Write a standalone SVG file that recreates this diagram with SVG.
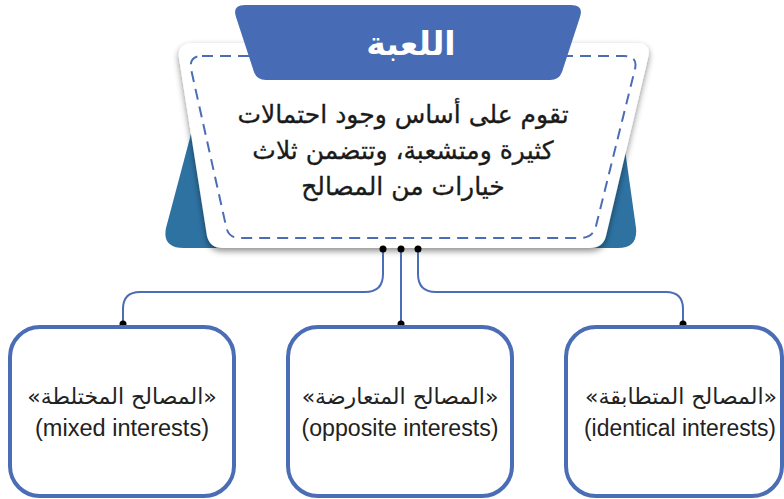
<svg xmlns="http://www.w3.org/2000/svg" width="784" height="499" viewBox="0 0 784 499">
<defs>
<style>
.conn{fill:none;stroke:#4a6db5;stroke-width:2}
.dot{fill:#000}
.box{fill:#fff;stroke:#4a6db5;stroke-width:4}
.ar{font-family:"DejaVu Sans","Noto Sans",sans-serif;font-size:22px;fill:#222;text-anchor:middle}
.en{font-family:"Liberation Sans Narrow","Liberation Sans",sans-serif;font-size:23px;fill:#222;text-anchor:middle}
.main{font-family:"DejaVu Sans","Noto Sans",sans-serif;font-size:25px;fill:#1a1a1a;text-anchor:middle;stroke:#1a1a1a;stroke-width:0.3}
</style>
<filter id="sh" x="-10%" y="-10%" width="120%" height="130%">
<feDropShadow dx="0" dy="3" stdDeviation="3" flood-color="#000" flood-opacity="0.45"/>
</filter>
</defs>
<g id="header">
<path d="M200,100 L618,100 L636,228 Q638,248 618,248 L184,248 Q162,248 166,228 Z" fill="#2e72a2"/>
<path d="M193,43 L636,43 Q652,43 648,58 L606,236 Q603,248 590,248 L222,248 Q210,248 207,236 L179,58 Q177,43 193,43 Z" fill="#fff" filter="url(#sh)"/>
<path d="M202,56 L624,56 Q638,56 635,69 L596,226 Q593,238 580,238 L240,238 Q228,238 226,226 L191,69 Q189,56 202,56 Z" fill="none" stroke="#4a6db5" stroke-width="2" stroke-dasharray="11,7"/>
<path d="M245,5 L571,5 Q584,5 580,17 L562,72 Q559,80 550,80 L266,80 Q257,80 254,72 L236,17 Q232,5 245,5 Z" fill="#476bb4"/>
<text x="411" y="55" font-family="DejaVu Sans,Noto Sans,sans-serif" font-size="33" font-weight="bold" fill="#fff" text-anchor="middle" direction="rtl">اللعبة</text>
<text class="main" x="403" y="123" direction="rtl">تقوم على أساس وجود احتمالات</text>
<text class="main" x="403" y="159" direction="rtl">كثيرة ومتشعبة، وتتضمن ثلاث</text>
<text class="main" x="403" y="195" direction="rtl">خيارات من المصالح</text>
</g>
<g id="connectors">
<path class="conn" d="M383,249 L383,274 Q383,292 365,292 L140,292 Q123,292 123,309 L123,324"/>
<path class="conn" d="M401,249 L401,324"/>
<path class="conn" d="M418,249 L418,274 Q418,292 436,292 L666,292 Q683,292 683,309 L683,324"/>
<circle class="dot" cx="383" cy="249" r="3.5"/>
<circle class="dot" cx="401" cy="249" r="3.5"/>
<circle class="dot" cx="418" cy="249" r="3.5"/>
<circle class="dot" cx="123" cy="324" r="3.5"/>
<circle class="dot" cx="401" cy="324" r="3.5"/>
<circle class="dot" cx="683" cy="324" r="3.5"/>
</g>
<g id="mixed">
<rect class="box" x="10" y="327" width="224" height="169" rx="30"/>
<text class="ar" x="122" y="404" direction="rtl">«المصالح المختلطة»</text>
<text class="en" x="122" y="436" textLength="174" lengthAdjust="spacingAndGlyphs">(mixed interests)</text>
</g>
<g id="opposite">
<rect class="box" x="288" y="327" width="224" height="169" rx="30"/>
<text class="ar" x="400" y="404" direction="rtl">«المصالح المتعارضة»</text>
<text class="en" x="400" y="436" textLength="197" lengthAdjust="spacingAndGlyphs">(opposite interests)</text>
</g>
<g id="identical">
<rect class="box" x="566" y="327" width="216" height="169" rx="30"/>
<text class="ar" x="681" y="404" direction="rtl">«المصالح المتطابقة»</text>
<text class="en" x="680" y="436" textLength="192" lengthAdjust="spacingAndGlyphs">(identical interests)</text>
</g>
</svg>
